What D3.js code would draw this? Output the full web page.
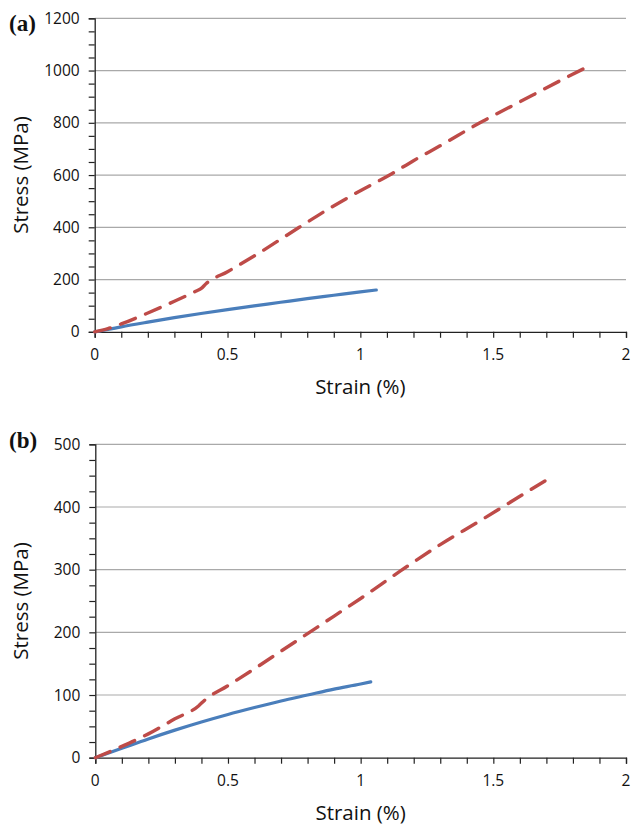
<!DOCTYPE html>
<html>
<head>
<meta charset="utf-8">
<script src="https://cdn.jsdelivr.net/npm/d3@7"></script>
<style>
  html, body { margin: 0; padding: 0; background: #fff; }
  svg { display: block; }
</style>
</head>
<body>
<svg id="chart" width="632" height="826"></svg>
<script>
// ---------- data ----------
// Panel (a)
const aStrainBlue = [0, 0.05, 0.10, 0.20, 0.30, 0.40, 0.50, 0.60, 0.70, 0.80, 0.90, 1.00, 1.06];
const aStressBlue = [0, 9, 19, 37, 54, 70, 85, 99, 113, 127, 140, 153, 160];
const aStrainRed  = [0, 0.05, 0.10, 0.20, 0.30, 0.38, 0.40, 0.42, 0.50, 0.60, 0.77, 0.88, 1.00, 1.11, 1.20, 1.30, 1.45, 1.60, 1.75, 1.866];
const aStressRed  = [0, 12, 30, 72, 117, 155, 165, 185, 230, 290, 400, 470, 540, 600, 655, 712, 800, 880, 960, 1020];
const aYTicks = [0, 200, 400, 600, 800, 1000, 1200];

// Panel (b)
const bStrainBlue = [0, 0.10, 0.20, 0.30, 0.40, 0.50, 0.60, 0.70, 0.80, 0.90, 1.00, 1.038];
const bStressBlue = [0, 15, 30, 44, 57, 69, 80, 90.5, 100, 109.5, 117.5, 121];
const bStrainRed  = [0, 0.10, 0.20, 0.30, 0.39, 0.41, 0.50, 0.60, 0.70, 0.80, 0.90, 1.00, 1.15, 1.30, 1.45, 1.55, 1.70];
const bStressRed  = [0, 18, 38, 62, 83, 91, 115, 142, 170, 198, 226, 254, 298, 340, 378, 404, 443];
const bYTicks = [0, 100, 200, 300, 400, 500];

const xTicks = [0, 0.5, 1, 1.5, 2];
const xTickLabels = ["0", "0.5", "1", "1.5", "2"];

// ---------- drawing ----------
const svg = d3.select("#chart");
const FONT = "'Open Sans', 'Noto Sans', sans-serif";
const BLUE = "#4a7ebb";
const RED = "#be4b48";

function panel(cfg) {
  const g = svg.append("g");
  const x = d3.scaleLinear().domain([0, 2]).range([cfg.left, cfg.right]);
  const y = d3.scaleLinear().domain([0, cfg.yMax]).range([cfg.bottom, cfg.top]);

  // gridlines
  g.append("g").selectAll("line").data(cfg.yTicks.filter(d => d > 0)).join("line")
    .attr("x1", cfg.left).attr("x2", cfg.right)
    .attr("y1", d => y(d)).attr("y2", d => y(d))
    .attr("stroke", "#a9a9a9").attr("stroke-width", 1.2);

  // x axis
  const xAxis = d3.axisBottom(x).tickValues(d3.range(0, 2.0001, 0.1)).tickSize(6)
    .tickFormat(() => "");
  const xg = g.append("g").attr("transform", `translate(0,${cfg.bottom})`).call(xAxis);
  xg.select(".domain").attr("stroke", "#222").attr("stroke-width", 1.3);
  xg.selectAll(".tick line").attr("stroke", "#222").attr("stroke-width", 1.2);

  g.append("g").selectAll("text").data(xTicks).join("text")
    .attr("x", d => x(d)).attr("y", cfg.bottom + 28.5)
    .attr("text-anchor", "middle")
    .attr("font-family", FONT).attr("font-size", 15.5).attr("fill", "#111")
    .text((d, i) => xTickLabels[i]);

  // y axis
  const yAxis = d3.axisLeft(y).tickValues(d3.range(0, cfg.yMax + 0.001, cfg.yMinor)).tickSize(6)
    .tickFormat(() => "");
  const yg = g.append("g").attr("transform", `translate(${cfg.left},0)`).call(yAxis);
  yg.select(".domain").attr("stroke", "#222").attr("stroke-width", 1.3);
  yg.selectAll(".tick line").attr("stroke", "#222").attr("stroke-width", 1.2);

  g.append("g").selectAll("text").data(cfg.yTicks).join("text")
    .attr("x", cfg.left - 15).attr("y", d => y(d))
    .attr("dy", "0.36em")
    .attr("text-anchor", "end")
    .attr("font-family", FONT).attr("font-size", 15.5).attr("fill", "#111")
    .text(d => d);

  // axis titles
  g.append("text")
    .attr("x", (cfg.left + cfg.right) / 2).attr("y", cfg.bottom + 62)
    .attr("text-anchor", "middle")
    .attr("font-family", FONT).attr("font-size", 20.5).attr("fill", "#111")
    .text("Strain (%)");
  g.append("text")
    .attr("transform", `translate(${cfg.left - 67},${(cfg.top + cfg.bottom) / 2}) rotate(-90)`)
    .attr("text-anchor", "middle")
    .attr("font-family", FONT).attr("font-size", 20.5).attr("fill", "#111")
    .text("Stress (MPa)");

  // panel label
  g.append("text")
    .attr("x", 9).attr("y", cfg.labelY)
    .attr("font-family", "'Liberation Serif', 'DejaVu Serif', serif")
    .attr("font-weight", "bold").attr("font-size", 23).attr("fill", "#111")
    .text(cfg.label);

  // lines
  const line = d3.line().x(d => x(d[0])).y(d => y(d[1])).curve(d3.curveMonotoneX);
  const blue = cfg.blueX.map((v, i) => [v, cfg.blueY[i]]);
  const red = cfg.redX.map((v, i) => [v, cfg.redY[i]]);
  g.append("path").datum(blue).attr("d", line)
    .attr("fill", "none").attr("stroke", BLUE).attr("stroke-width", 3.2)
    .attr("stroke-linecap", "round");
  g.append("path").datum(red).attr("d", line)
    .attr("fill", "none").attr("stroke", RED).attr("stroke-width", 3.4)
    .attr("stroke-linecap", "round").attr("stroke-dasharray", "16,11");
}

panel({
  left: 94.7, right: 626, top: 18.3, bottom: 331.8, yMax: 1200, yMinor: 50,
  yTicks: aYTicks, label: "(a)", labelY: 31,
  blueX: aStrainBlue, blueY: aStressBlue, redX: aStrainRed, redY: aStressRed
});
panel({
  left: 95.3, right: 626, top: 444.3, bottom: 757.7, yMax: 500, yMinor: 25,
  yTicks: bYTicks, label: "(b)", labelY: 448,
  blueX: bStrainBlue, blueY: bStressBlue, redX: bStrainRed, redY: bStressRed
});
</script>
</body>
</html>
